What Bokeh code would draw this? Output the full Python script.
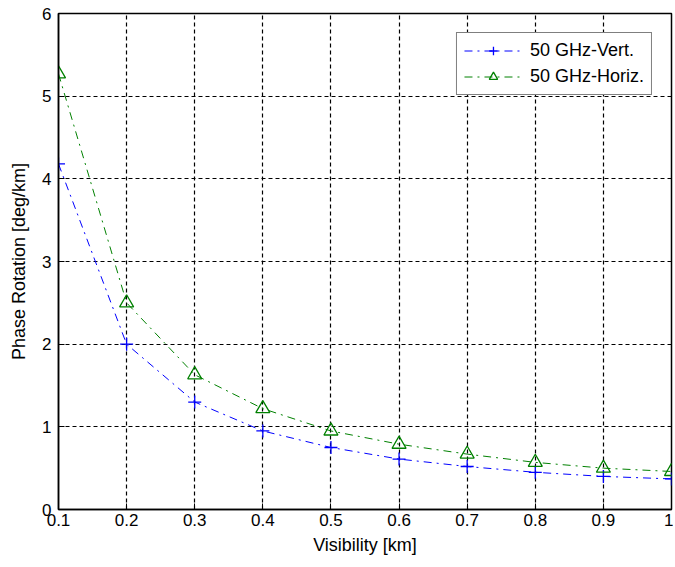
from bokeh.plotting import figure
from bokeh.models import FixedTicker, Range1d, Legend, LegendItem
from bokeh.embed import file_html
from bokeh.resources import INLINE

visibility = [0.1, 0.2, 0.3, 0.4, 0.5, 0.6, 0.7, 0.8, 0.9, 1.0]
vert_50ghz = [4.18, 2.0, 1.3, 0.95, 0.75, 0.61, 0.52, 0.45, 0.40, 0.37]
horiz_50ghz = [5.27, 2.5, 1.63, 1.22, 0.95, 0.79, 0.67, 0.57, 0.50, 0.46]
x_ticks = [0.1, 0.2, 0.3, 0.4, 0.5, 0.6, 0.7, 0.8, 0.9, 1.0]
x_tick_labels = ["0.1", "0.2", "0.3", "0.4", "0.5", "0.6", "0.7", "0.8", "0.9", "1"]
y_ticks = [0, 1, 2, 3, 4, 5, 6]

FONT = "Liberation Sans"

p = figure(width=673, height=562, output_backend="svg", toolbar_location=None,
           x_range=Range1d(0.1, 1.0), y_range=Range1d(0, 6),
           min_border_left=58, min_border_right=2, min_border_top=13, min_border_bottom=53)
p.background_fill_color = "white"
p.border_fill_color = "white"
p.outline_line_color = "black"
p.outline_line_width = 1.5

xax = p.xaxis[0]
yax = p.yaxis[0]
for ax in (xax, yax):
    ax.axis_line_color = "black"
    ax.axis_line_width = 1.5
    ax.major_tick_in = 6
    ax.major_tick_out = 0
    ax.minor_tick_line_color = None
    ax.major_tick_line_color = "black"
    ax.major_label_text_font = FONT
    ax.major_label_text_font_size = "17px"
    ax.major_label_text_color = "black"
    ax.axis_label_text_font = FONT
    ax.axis_label_text_font_size = "18px"
    ax.axis_label_text_font_style = "normal"
    ax.axis_label_text_color = "black"

xax.ticker = FixedTicker(ticks=x_ticks)
xax.major_label_overrides = {t: l for t, l in zip(x_ticks, x_tick_labels)}
yax.ticker = FixedTicker(ticks=y_ticks)
xax.axis_label = "Visibility [km]"
yax.axis_label = "Phase Rotation [deg/km]"
xax.major_label_standoff = 4
yax.major_label_standoff = 7
xax.axis_label_standoff = 6
yax.axis_label_standoff = 10

p.xgrid.ticker = FixedTicker(ticks=x_ticks)
p.ygrid.ticker = FixedTicker(ticks=y_ticks)
for g in (p.xgrid[0], p.ygrid[0]):
    g.grid_line_color = "black"
    g.grid_line_dash = "4 3"
    g.grid_line_width = 1.2

vl = p.line(visibility, vert_50ghz, line_color="blue", line_dash="8 5 2 5", line_width=1)
vm = p.scatter(visibility, vert_50ghz, marker="cross", size=13, line_color="blue", line_width=1.3)
hl = p.line(visibility, horiz_50ghz, line_color="green", line_dash="8 5 2 5", line_width=1)
hm = p.scatter(visibility, horiz_50ghz, marker="triangle", size=14, line_color="green",
               fill_color=None, line_width=1.3)

legend = Legend(items=[LegendItem(label="50 GHz-Vert.", renderers=[vl, vm]),
                       LegendItem(label="50 GHz-Horiz.", renderers=[hl, hm])],
                location="top_right")
legend.border_line_color = "black"
legend.border_line_width = 1.2
legend.background_fill_color = "white"
legend.background_fill_alpha = 1
legend.label_text_font = FONT
legend.label_text_font_size = "18px"
legend.label_text_color = "black"
legend.glyph_width = 58
legend.glyph_height = 21
legend.spacing = 5
legend.padding = 7
legend.margin = 19
legend.label_standoff = 8
p.add_layout(legend, "center")

open("out.html", "w").write(file_html(p, INLINE))
